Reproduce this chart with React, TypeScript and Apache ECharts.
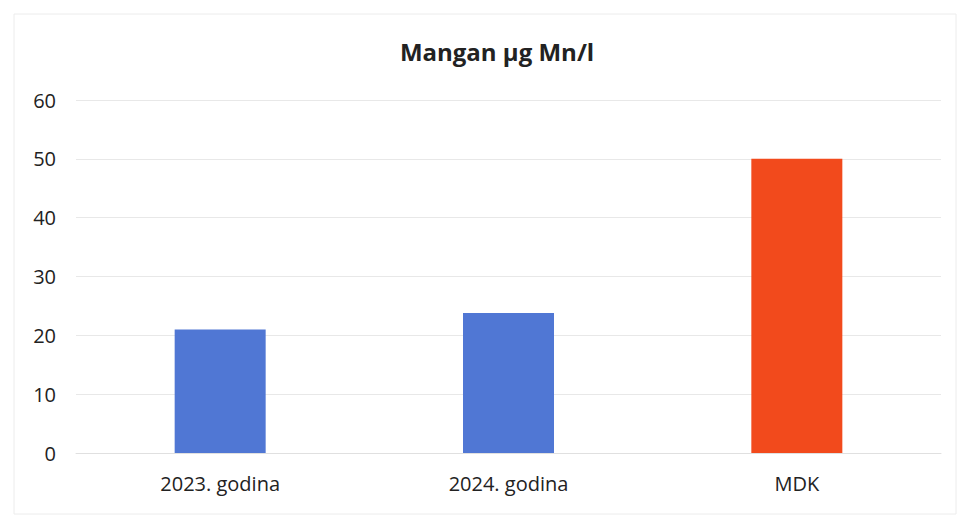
import React, { useEffect, useRef } from "react";
import * as echarts from "echarts";

const categories = ["2023. godina", "2024. godina", "MDK"];
const values = [21, 23.8, 50];
const barColors = ["#5077d4", "#5077d4", "#f24a1c"];
const yTicks = [0, 10, 20, 30, 40, 50, 60];
const title = "Mangan µg Mn/l";

export default function App() {
  const ref = useRef<HTMLDivElement>(null);
  useEffect(() => {
    if (!ref.current) return;
    const chart = echarts.init(ref.current, undefined, { renderer: "svg" });
    chart.setOption({
      animation: false,
      backgroundColor: "#ffffff",
      title: {
        text: title,
        left: 492,
        textAlign: "center",
        top: 34,
        textStyle: { fontFamily: "Open Sans", fontWeight: "bold", fontSize: 24, color: "#222" },
      },
      graphic: [
        {
          type: "rect",
          shape: { x: 14, y: 14, width: 942, height: 500 },
          style: { fill: "none", stroke: "#ececec", lineWidth: 1 },
          silent: true,
        },
      ],
      grid: { left: 76, right: 23, top: 100, bottom: 62, containLabel: false },
      xAxis: {
        type: "category",
        data: categories,
        axisLine: { show: true, lineStyle: { color: "#e0e0e0" } },
        axisTick: { show: false },
        axisLabel: { color: "#222", fontSize: 20, fontFamily: "Open Sans", margin: 20 },
      },
      yAxis: {
        type: "value",
        min: yTicks[0],
        max: yTicks[yTicks.length - 1],
        interval: 10,
        axisLine: { show: false },
        axisTick: { show: false },
        axisLabel: { color: "#222", fontSize: 20, fontFamily: "Open Sans", margin: 20 },
        splitLine: { lineStyle: { color: "#e8e8e8", width: 1 } },
      },
      series: [
        {
          type: "bar",
          data: values.map((v, i) => ({ value: v, itemStyle: { color: barColors[i] } })),
          barWidth: 91,
        },
      ],
    });
    return () => chart.dispose();
  }, []);
  return (
    <div
      ref={ref}
      style={{ position: "fixed", left: 0, top: 0, width: 964, height: 515 }}
    />
  );
}
